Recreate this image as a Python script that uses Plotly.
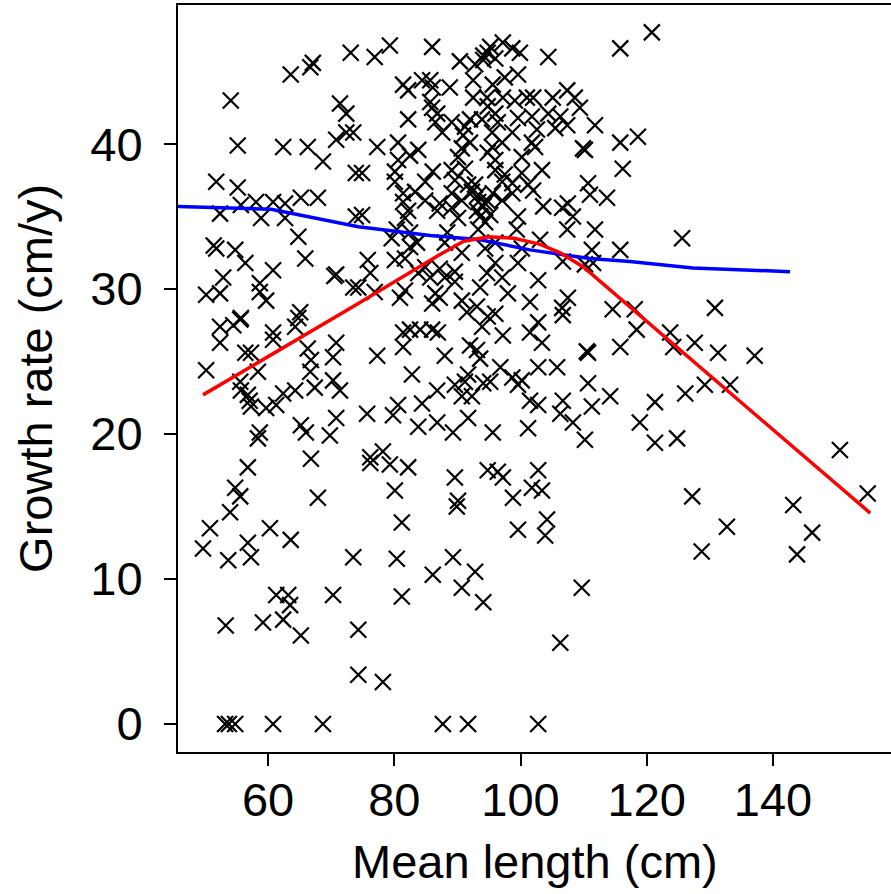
import plotly.graph_objects as go

# Scatter data: mean length (cm) and growth rate (cm/y)
mean_length = [
    73.1, 67.1, 66.7, 63.6, 54.1, 71.4, 72.4, 70.8, 72.4, 73.5, 55.2, 62.4, 66.3, 68.7, 51.8, 55.2,
    55.7, 58.1, 60.8, 62.7, 65.2, 67.9, 52.4, 58.9, 62.7, 64.8, 51.4, 51.8, 54.8, 65.9, 73.9, 73.9,
    56.4, 60.8, 70.5, 70.8, 52.9, 58.7, 73.5, 50.2, 52.4, 58.7, 59.7, 65.1, 64.8, 55.7, 52.4, 54.5,
    55.6, 64.3, 60.8, 52.4, 60.8, 70.8, 56.4, 57.3, 66.3, 70.3, 66.8, 50.2, 58.4, 66.7, 55.6, 55.7,
    56.8, 57.1, 57.3, 70.3, 71.4, 64.3, 67.4, 62.4, 61.3, 59.7, 70.8, 65.2, 66.0, 69.8, 58.7, 58.4,
    66.8, 56.8, 54.8, 55.6, 67.9, 54.0, 50.8, 60.3, 56.8, 57.3, 63.6, 49.7, 53.7, 73.5, 61.3, 63.2,
    63.5, 70.3, 53.3, 59.2, 62.4, 65.2, 74.3, 74.3, 53.2, 53.8, 54.8, 60.8, 68.7,
    76.9, 79.3, 86.0, 90.4, 92.8, 94.1, 94.8, 95.2, 97.2, 98.7, 99.9, 96.0, 94.1, 81.4, 82.2, 84.4,
    85.7, 86.1, 88.8, 92.5, 95.6, 97.5, 99.6, 92.5, 94.7, 97.2, 99.1, 101.0, 85.7, 86.0, 86.8, 94.8,
    96.0, 82.2, 86.5, 89.1, 91.2, 92.0, 93.9, 96.4, 99.6, 101.8, 87.6, 90.9, 95.5, 98.7, 77.3, 80.6,
    83.8, 90.7, 92.0, 95.5, 97.1, 101.8, 80.6, 82.5, 90.1, 94.8, 96.0, 100.2, 74.9, 80.1, 86.1, 89.1,
    91.2, 96.0, 97.5, 100.2, 80.1, 84.9, 89.6, 91.7, 97.1, 98.7, 101.2, 81.4, 83.3, 89.1, 92.3, 95.6,
    98.7, 81.4, 84.9, 87.2, 90.7, 93.3, 94.7, 97.1, 82.2, 86.8, 89.1, 93.1, 94.1, 74.9, 81.7, 90.1,
    93.6, 94.4, 99.6, 80.4, 82.5, 79.6, 88.4, 99.4, 93.3, 82.5, 83.6, 88.0, 96.0, 94.4, 100.2,
    93.3, 94.4, 95.2, 92.8,
    120.8, 115.8, 104.4, 102.0, 105.1, 107.4, 108.6, 109.4, 104.4, 106.3, 102.6, 105.5, 107.4, 111.8,
    102.3, 109.9, 110.2, 115.8, 118.6, 103.4, 116.2, 102.0, 110.7, 111.0, 113.7, 103.6, 106.6, 107.5,
    108.3, 107.4, 111.8, 103.1, 125.6, 111.3, 115.8,
    75.8, 76.2, 80.1, 81.7, 74.3, 76.9, 80.9, 81.7, 83.8, 84.9, 85.7, 87.2, 88.0, 89.6, 89.6, 90.7,
    86.5, 87.2, 86.0, 90.7, 91.5, 93.1, 93.6, 94.7, 96.0, 97.1, 98.0, 99.6, 94.8, 96.0, 93.9, 97.2,
    101.5, 101.5, 81.4, 82.5, 84.1, 86.0, 86.9, 81.4, 77.3, 88.0, 92.0, 93.1, 93.6, 82.8, 91.7, 91.2,
    89.6, 86.8, 94.1, 95.2, 96.8, 98.7, 99.6, 100.2, 90.7, 92.3, 101.5, 75.7, 79.8, 80.6, 84.4, 83.8,
    86.8, 89.3, 91.7, 95.6, 101.2, 76.2, 76.2, 78.2, 79.3, 82.2, 89.6, 94.8, 96.4, 97.2, 80.1, 90.1,
    98.8, 101.8,
    106.7, 110.2, 111.5, 102.8, 107.5, 106.6, 106.7, 114.6, 118.1, 118.4, 123.7, 124.2, 127.6, 102.8,
    103.4, 110.5, 110.7, 115.8, 102.8, 105.8, 110.7, 114.2, 126.1, 129.2, 102.8, 106.7, 106.3, 111.3,
    121.3, 108.3, 110.2, 118.9, 121.3, 124.8, 102.8, 103.4, 127.2,
    130.8, 131.3, 137.1, 133.2, 150.6, 155.0, 143.2, 146.2, 143.8, 132.7, 128.7,
    104.2, 103.9, 109.7, 106.3, 102.8,
    89.9, 81.2, 99.6, 80.4, 89.3, 86.1, 92.8, 90.7, 94.1, 81.2, 78.2, 87.7, 91.7,
]
growth_rate = [
    46.3, 45.6, 45.3, 44.8, 43.0, 42.8, 42.1, 40.3, 40.8, 40.8, 39.9, 39.8, 39.8, 38.8, 37.4, 37.0,
    35.8, 36.0, 36.0, 35.9, 36.3, 36.3, 35.2, 34.9, 34.9, 33.6, 33.0, 32.8, 32.7, 32.1, 38.0, 35.0,
    31.8, 31.3, 30.9, 31.0, 30.8, 30.4, 30.1, 29.6, 29.7, 29.8, 29.2, 28.4, 28.0, 28.0, 27.4, 27.5,
    27.9, 27.4, 27.0, 26.3, 26.5, 26.3, 25.6, 25.6, 25.9, 25.3, 25.1, 24.4, 24.3, 24.3, 23.6, 23.0,
    22.7, 22.3, 21.9, 23.7, 23.0, 23.0, 23.2, 22.8, 22.0, 21.8, 21.1, 20.6, 20.1, 19.9, 20.1, 19.7,
    18.3, 17.7, 16.3, 15.7, 15.6, 14.6, 13.5, 13.5, 12.5, 11.5, 12.7, 12.1, 11.3, 11.5, 8.9, 8.9,
    8.2, 8.9, 6.8, 7.0, 7.2, 6.1, 6.5, 3.4, 0.0, 0.0, 0.0, 0.0, 0.0,
    46.0, 46.8, 46.7, 45.7, 45.5, 45.8, 46.3, 46.7, 47.0, 46.6, 46.3, 45.9, 46.1, 44.1, 43.7, 44.4,
    44.4, 43.9, 43.9, 44.4, 44.1, 44.6, 44.8, 43.2, 43.2, 43.2, 43.0, 43.2, 42.9, 42.5, 42.1, 42.6,
    42.1, 41.7, 41.5, 41.5, 41.2, 41.7, 41.7, 41.5, 41.8, 41.9, 40.8, 40.6, 40.8, 40.8, 39.8, 40.1,
    39.6, 39.7, 40.1, 39.8, 40.1, 40.1, 38.9, 39.2, 39.1, 39.4, 38.9, 39.1, 38.0, 38.1, 38.1, 38.2,
    38.3, 38.2, 37.9, 38.0, 37.4, 37.4, 37.5, 37.2, 37.4, 37.3, 37.2, 36.6, 36.7, 36.6, 36.7, 36.6,
    36.6, 36.0, 36.1, 35.9, 36.1, 36.0, 36.1, 36.1, 35.4, 35.4, 35.6, 35.4, 35.7, 35.1, 34.9, 34.9,
    35.0, 34.6, 35.0, 34.1, 33.9, 33.5, 33.9, 34.1, 34.1, 32.9, 33.2, 33.2, 33.2, 32.8, 32.8,
    36.5, 35.9, 35.1, 37.2,
    47.7, 46.6, 46.0, 43.2, 43.2, 43.7, 43.2, 42.5, 42.1, 41.9, 41.0, 41.1, 41.3, 41.3,
    39.8, 39.7, 39.6, 40.1, 40.5, 38.2, 38.3, 36.8, 37.3, 36.5, 36.3, 35.7, 35.6, 35.9,
    35.0, 34.1, 34.1, 33.4, 33.5, 32.7, 32.7,
    32.0, 31.1, 32.0, 32.1, 30.1, 29.8, 29.4, 29.9, 31.1, 31.5, 30.8, 31.4, 30.8, 31.2, 30.5, 32.5,
    29.7, 29.4, 29.0, 29.2, 28.4, 28.8, 30.1, 31.1, 31.8, 30.8, 29.7, 31.8, 28.1, 28.3, 27.4, 26.8,
    29.1, 27.0, 27.0, 27.2, 27.2, 27.2, 27.0, 26.0, 25.4, 25.4, 26.1, 25.8, 25.2, 24.1, 24.1, 23.6,
    23.4, 23.0, 23.5, 23.6, 24.6, 23.9, 23.4, 23.7, 22.6, 22.6, 22.3, 21.4, 21.3, 22.0, 22.1, 20.5,
    20.8, 20.1, 21.1, 20.1, 20.4, 18.4, 18.0, 18.8, 17.9, 17.7, 17.0, 17.5, 17.4, 17.0, 16.1, 15.4,
    15.6, 16.3,
    31.9, 31.7, 31.8, 30.6, 29.4, 28.7, 28.2, 28.6, 28.6, 27.2, 27.0, 26.0, 26.3, 27.7,
    26.3, 25.7, 25.6, 26.0, 24.6, 24.6, 23.5, 22.6, 22.8, 23.4, 22.0, 22.3, 21.4, 21.9,
    22.2, 20.8, 19.6, 20.8, 19.4, 19.7, 17.5, 16.1, 15.7,
    28.7, 25.6, 25.4, 23.4, 18.9, 15.9, 15.1, 13.2, 11.7, 13.6, 11.9,
    14.1, 13.0, 9.4, 5.6, 0.0,
    15.0, 13.9, 13.4, 11.4, 11.5, 10.3, 10.5, 9.4, 8.4, 8.8, 2.9, 0.0, 0.0,
]

# Fitted curves
blue_x = [45.7, 60.5, 74.3, 85.7, 93.6, 101.5, 111.0, 117.3, 127.3, 142.7]
blue_y = [35.7, 35.5, 34.3, 33.7, 33.4, 32.7, 32.1, 31.9, 31.45, 31.2]
red_x = [49.7, 74.3, 86.9, 91.0, 95.0, 99.0, 103.0, 106.3, 110.0, 155.4]
red_y = [22.7, 29.0, 32.3, 33.3, 33.6, 33.5, 33.1, 32.5, 31.5, 14.55]

x_ticks = [60, 80, 100, 120, 140]
y_ticks = [0, 10, 20, 30, 40]
x_title = "Mean length (cm)"
y_title = "Growth rate (cm/y)"

FONT = "Liberation Sans, Arial, sans-serif"
FS = 47

fig = go.Figure()
fig.add_trace(go.Scatter(
    x=mean_length, y=growth_rate, mode="markers",
    marker=dict(symbol="x-thin-open", size=16, color="black",
                line=dict(color="black", width=2.2)),
    showlegend=False, hoverinfo="skip"))
fig.add_trace(go.Scatter(x=blue_x, y=blue_y, mode="lines",
                         line=dict(color="#0000FF", width=3.5), showlegend=False))
fig.add_trace(go.Scatter(x=red_x, y=red_y, mode="lines",
                         line=dict(color="#FF0000", width=3.5), showlegend=False))

fig.update_layout(
    width=891, height=894,
    margin=dict(l=178, r=0, t=5, b=142, autoexpand=False),
    paper_bgcolor="white", plot_bgcolor="white",
    font=dict(family=FONT, size=FS, color="black"),
    xaxis=dict(range=[45.74, 158.69], tickvals=x_ticks, ticks="outside", ticklen=12,
               tickwidth=2, tickcolor="black", showline=True, linewidth=2, linecolor="black",
               mirror=True, showgrid=False, zeroline=False,
               tickfont=dict(family=FONT, size=FS), ticklabelstandoff=-6),
    yaxis=dict(range=[-1.93, 49.59], tickvals=y_ticks, ticks="outside", ticklen=12,
               tickwidth=2, tickcolor="black", showline=True, linewidth=2, linecolor="black",
               mirror=False, showgrid=False, zeroline=False,
               tickfont=dict(family=FONT, size=FS), ticklabelstandoff=12),
    annotations=[
        dict(text=x_title, xref="paper", yref="paper", x=0.5, y=-0.147,
             xanchor="center", yanchor="middle", showarrow=False,
             font=dict(family=FONT, size=FS)),
        dict(text=y_title, xref="paper", yref="paper", x=-0.2, y=0.5, textangle=-90,
             xanchor="center", yanchor="middle", showarrow=False,
             font=dict(family=FONT, size=FS)),
    ],
)

fig.write_html("out.html")
